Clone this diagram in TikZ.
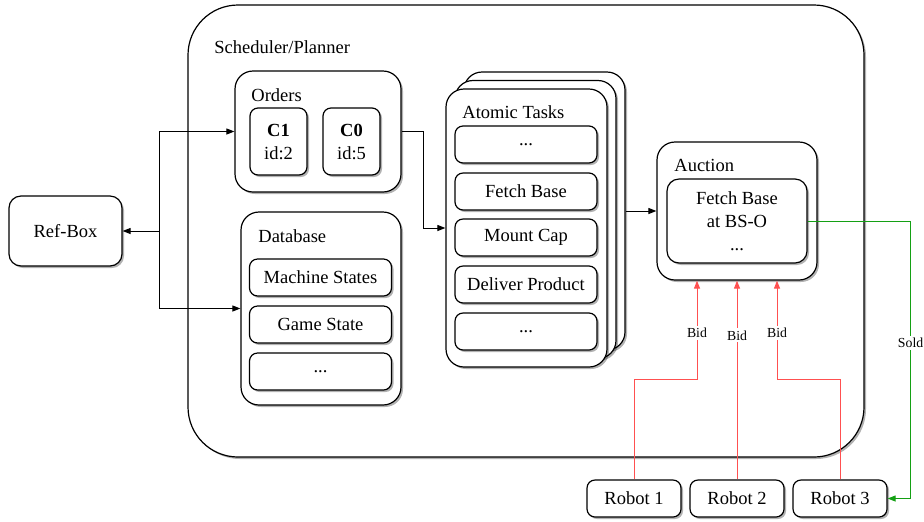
\documentclass[tikz,border=0pt]{standalone}
\usepackage{fontspec}
\setmainfont{Liberation Serif}
\usetikzlibrary{calc,shadows,arrows.meta}

\definecolor{bidRed}{RGB}{255,80,80}
\definecolor{soldGreen}{RGB}{20,160,20}

\begin{document}
\begin{tikzpicture}[x=0.5pt, y=-0.5pt,
	font=\fontsize{9.25}{11.5}\selectfont,
	shade box/.style={draw, line width=0.6pt, fill=white, align=center, inner sep=0pt,
		drop shadow={shadow xshift=1pt, shadow yshift=-1pt, opacity=0.3, fill=black}},
	outer box/.style={shade box, rounded corners=9pt},
	inner box/.style={shade box, rounded corners=4pt, minimum width=71pt, minimum height=18.5pt},
	title/.style={anchor=base west, inner sep=0pt},
	arr/.style={line width=0.5pt, -{Triangle[length=4pt,width=3pt]}},
	bid/.style={arr, color=bidRed},
	sold/.style={arr, color=soldGreen},
	lbl/.style={fill=white, inner sep=1pt, text=black, font=\fontsize{6.9}{8}\selectfont},
]
	\useasboundingbox (0,0) rectangle (924,521);

%scheduler frame
	\node[shade box, rounded corners=25pt, minimum width=338pt, minimum height=226pt] (planner) at (526,231) {};
	\node[title] (plannerTitle) at (214,53) {Scheduler/Planner};

	\node[shade box, rounded corners=6pt, minimum width=56.5pt, minimum height=35pt] (refBox) at (65.5,231) {Ref-Box};

%orders
	\node[outer box, minimum width=83pt, minimum height=60.5pt] (orders) at (318,131.5) {};
	\node[title] (ordersTitle) at (251,101) {Orders};
	\node[shade box, rounded corners=4pt, minimum width=28.5pt, minimum height=33.5pt] (cOne) at (278.5,141.5) {\textbf{C1}\\id:2};
	\node[shade box, rounded corners=4pt, minimum width=28.5pt, minimum height=33.5pt] (cZero) at (351.5,141.5) {\textbf{C0}\\id:5};

%database
	\node[outer box, minimum width=80pt, minimum height=96.5pt] (database) at (321,308.5) {};
	\node[title] (databaseTitle) at (258,242) {Database};
	\node[inner box] (machineStates) at (320.5,277.5) {Machine States};
	\node[inner box] (gameState) at (320.5,324.5) {Game State};
	\node[inner box] (dbMore) at (320.5,371.5) {...};

%atomic tasks (stack of three)
	\node[outer box, minimum width=80.5pt, minimum height=139pt] (tasksBack) at (544.5,211) {};
	\node[outer box, minimum width=80.5pt, minimum height=139pt] (tasksMid) at (535.5,219.5) {};
	\node[outer box, minimum width=80.5pt, minimum height=139pt] (tasksFront) at (526.5,228) {};
	\node[title] (tasksTitle) at (462,118) {Atomic Tasks};
	\node[inner box] (taskTop) at (526,144.5) {...};
	\node[inner box] (fetchBase) at (526,191.5) {Fetch Base};
	\node[inner box] (mountCap) at (526,237.5) {Mount Cap};
	\node[inner box] (deliverProduct) at (526,284.5) {Deliver Product};
	\node[inner box] (taskBottom) at (526,331.5) {...};

%auction
	\node[outer box, minimum width=80pt, minimum height=69pt] (auction) at (737,211) {};
	\node[title] (auctionTitle) at (674,171) {Auction};
	\node[shade box, rounded corners=6pt, minimum width=70pt, minimum height=42pt] (auctionItem) at (737,221) {Fetch Base\\at BS-O\\...};

%robots
	\node[inner box, minimum width=47pt] (robotOne) at (634,498.5) {Robot 1};
	\node[inner box, minimum width=47pt] (robotTwo) at (737,498.5) {Robot 2};
	\node[inner box, minimum width=47pt] (robotThree) at (840,498.5) {Robot 3};

%connectors
	\coordinate (split) at (159,231);
	\draw[arr] (split) -- (refBox.east);
	\draw[arr] (split) |- (orders.west);
	\draw[arr] (split) |- (database.west);
	\draw[arr] (orders.east) -- ++(22,0) |- (tasksFront.west);
	\draw[arr] (tasksBack.east) -- (auction.west);

	\draw[sold] (auctionItem.east) -- ++(103,0) |- node[lbl, pos=0.22] {Sold} (robotThree.east);

	\draw[bid] (robotOne.north) -- ++(0,-100) -| node[lbl, pos=0.735] {Bid} ([xshift=-20pt]auction.south);
	\draw[bid] (robotTwo.north) -- node[lbl, pos=0.725] {Bid} (auction.south);
	\draw[bid] (robotThree.north) -- ++(0,-100) -| node[lbl, pos=0.735] {Bid} ([xshift=20pt]auction.south);
\end{tikzpicture}
\end{document}
